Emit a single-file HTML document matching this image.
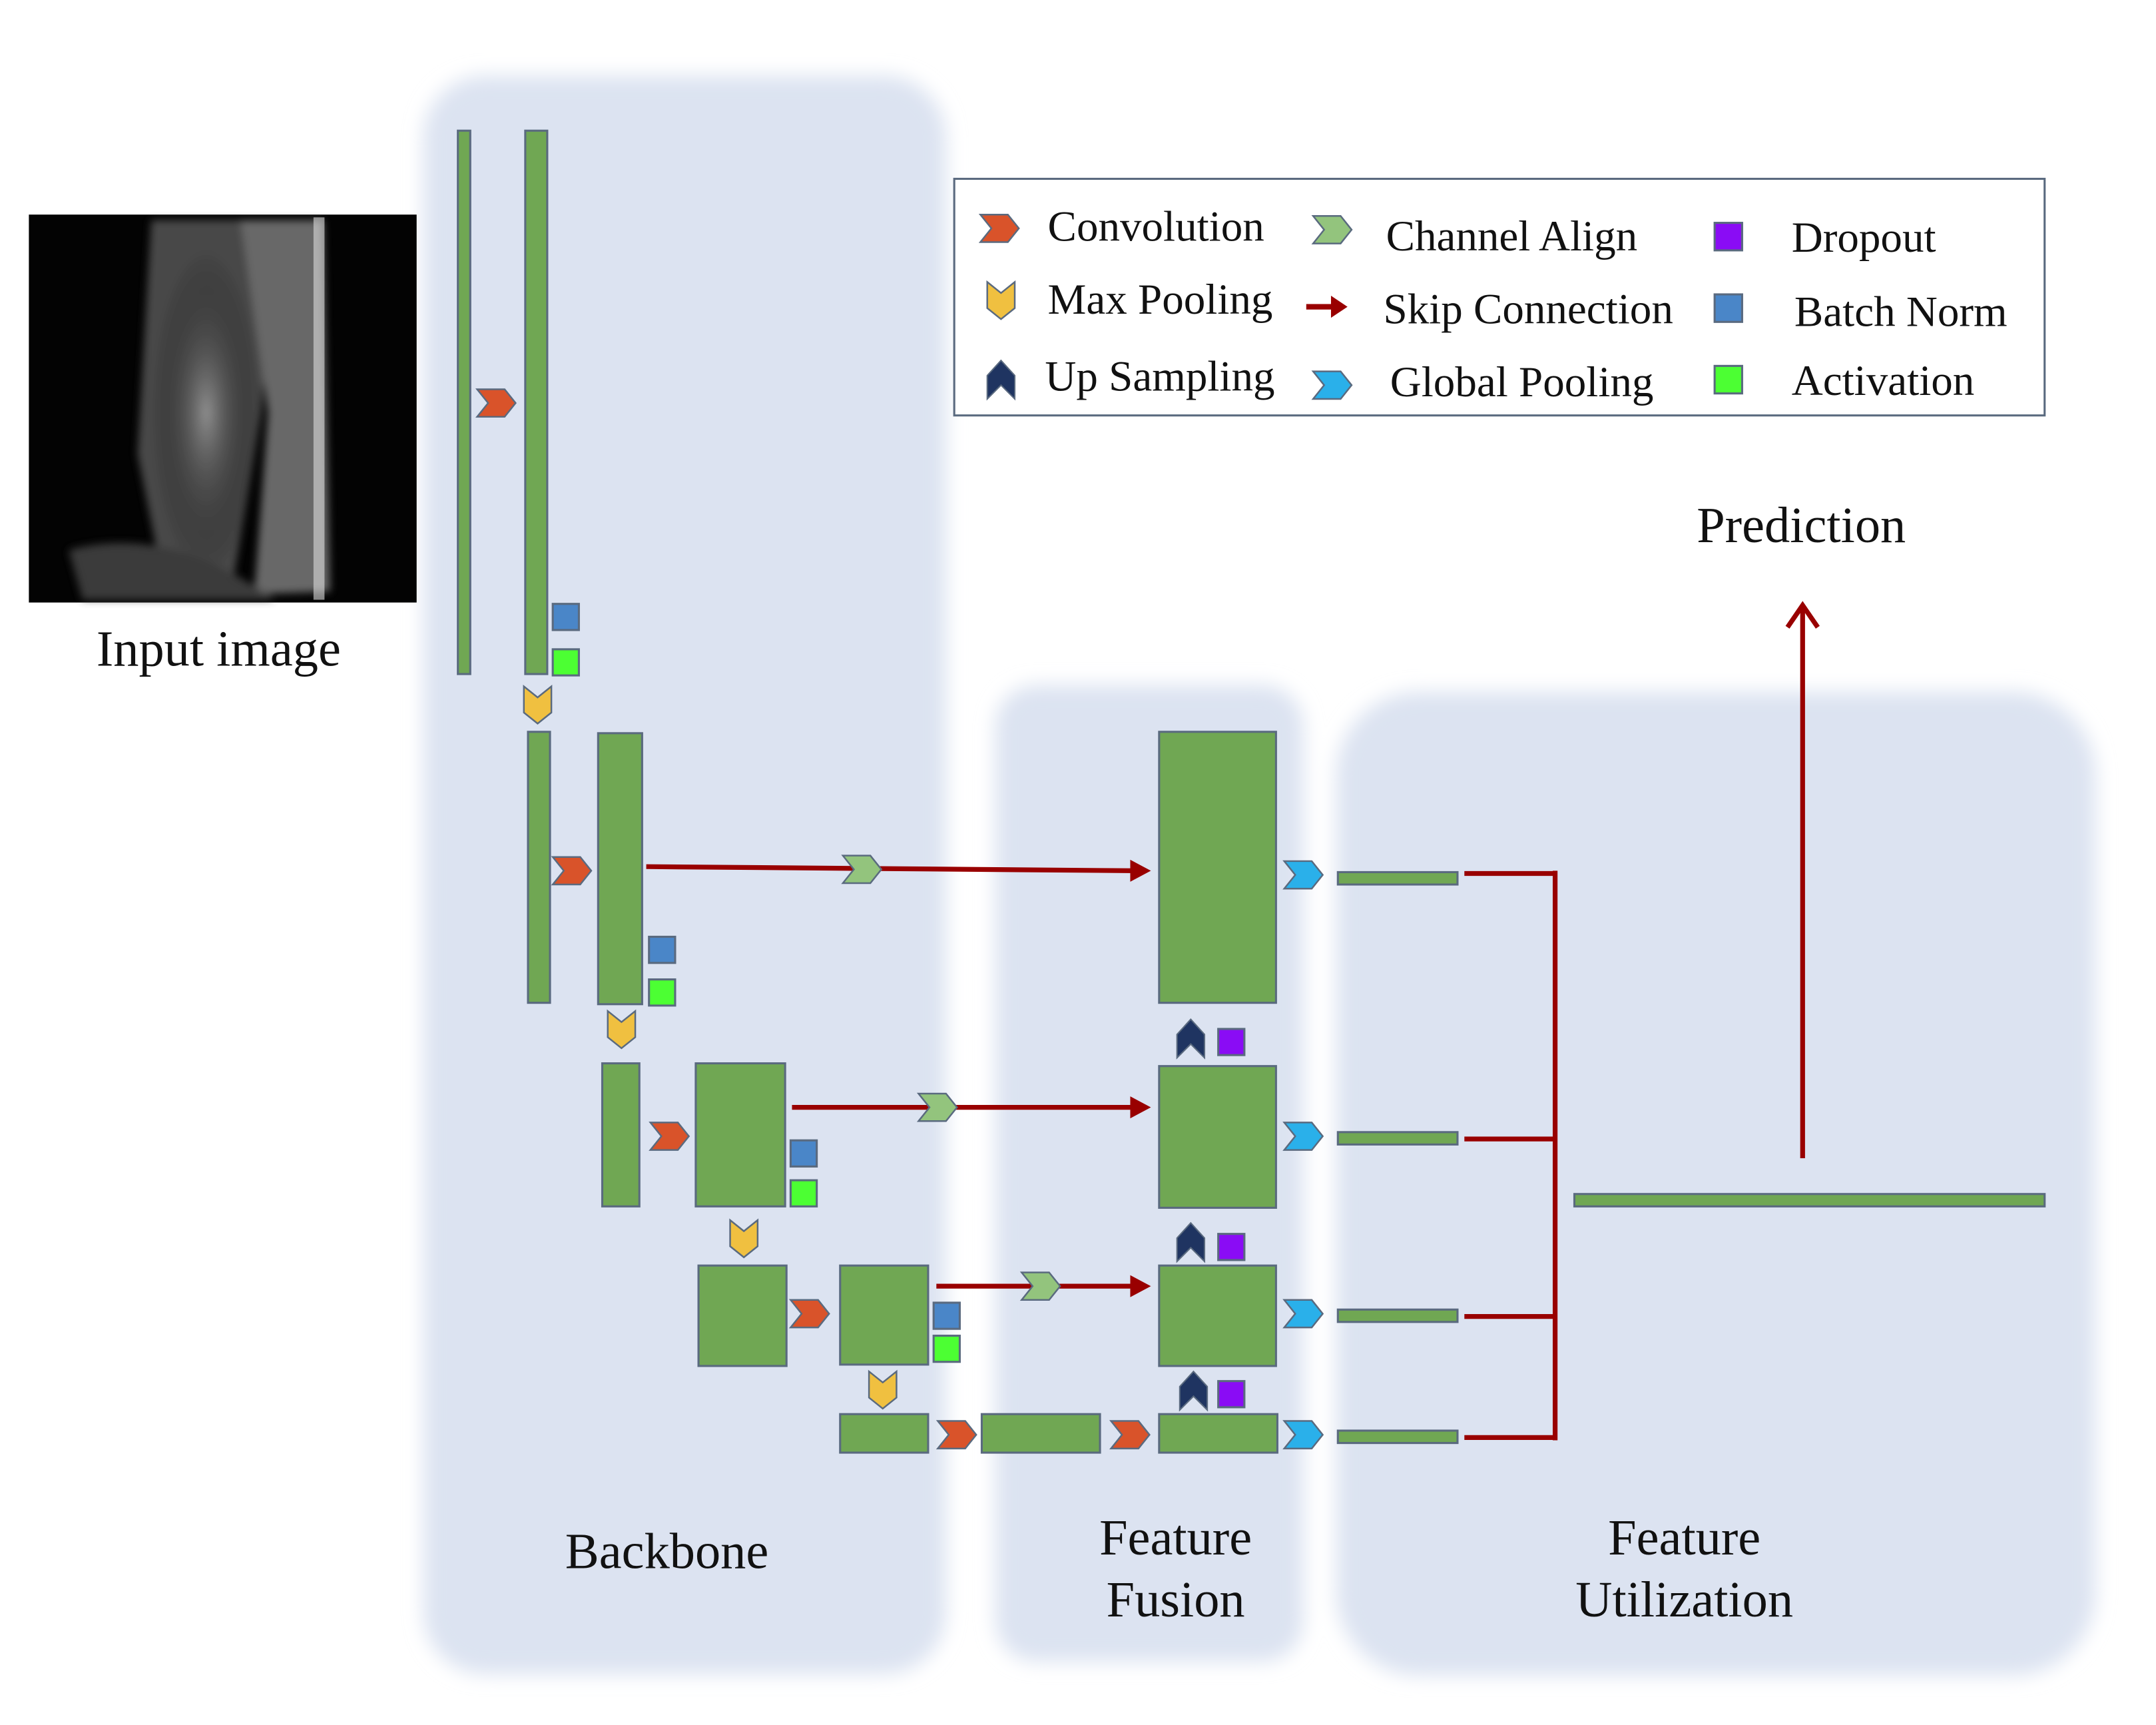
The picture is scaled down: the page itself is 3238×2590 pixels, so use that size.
<!DOCTYPE html>
<html><head><meta charset="utf-8"><style>
html,body{margin:0;padding:0;background:#fff}
svg{display:block}
text{font-family:"Liberation Serif",serif;fill:#111}
</style></head><body>
<svg width="3238" height="2590" viewBox="0 0 1568 1254" preserveAspectRatio="none" xmlns="http://www.w3.org/2000/svg">
<defs>
<filter id="bl" x="-20%" y="-20%" width="140%" height="140%"><feGaussianBlur stdDeviation="7"/></filter>
<filter id="b2"><feGaussianBlur stdDeviation="3"/></filter>
<radialGradient id="sp" cx="0.5" cy="0.5" r="0.5"><stop offset="0" stop-color="#aaa"/><stop offset="1" stop-color="#000" stop-opacity="0"/></radialGradient>
<polygon id="cv" points="-14,-10 6,-10 14,0 6,10 -14,10 -6,0" stroke="#5a6a7f" stroke-width="1.2"/>
<polygon id="pl" points="-10,-13 0,-5 10,-13 10,6 0,14 -10,6" fill="#f0c040" stroke="#5a6a7f" stroke-width="1.2"/>
<polygon id="up" points="0,-14 10,-3 10,14 0,4 -10,14 -10,-3" fill="#1f3461" stroke="#5a6a7f" stroke-width="1"/>
</defs>
<rect width="1568" height="1254" fill="#fff"/>
<g filter="url(#bl)" fill="#dce3f1">
<rect x="308" y="55" width="380" height="1162" rx="45"/>
<rect x="724" y="498" width="224" height="710" rx="30"/>
<rect x="972" y="503" width="552" height="715" rx="60"/>
</g>
<rect x="21" y="156" width="282" height="282" fill="#030303"/>
<g filter="url(#b2)" opacity="0.85">
<path d="M110 160 L200 160 L190 300 L170 420 L120 430 L100 330 Z" fill="#555"/>
<path d="M175 160 L235 160 L240 430 L185 432 L195 300 Z" fill="#7a7a7a"/>
<ellipse cx="150" cy="300" rx="40" ry="120" fill="url(#sp)"/>
<path d="M50 400 Q120 380 200 436 L60 436 Z" fill="#444"/>
</g>
<rect x="228" y="158" width="8" height="278" fill="#ddd" opacity="0.6"/>
<text x="159" y="484" font-size="37" text-anchor="middle">Input image</text>
<rect x="694" y="130" width="793" height="172" fill="#fff" stroke="#5a6a7f" stroke-width="1.5"/>
<use href="#cv" x="727" y="166" fill="#d9532a"/>
<use href="#pl" x="728" y="218"/>
<use href="#up" x="728" y="276"/>
<use href="#cv" x="969" y="167" fill="#93c47d"/>
<use href="#cv" x="969" y="280" fill="#2ab0ea"/>
<line x1="950" y1="223" x2="970" y2="223" stroke="#990000" stroke-width="4"/>
<polygon points="968,215 980,223 968,231" fill="#990000"/>
<rect x="1247" y="162" width="20" height="20" fill="#8a0cf5" stroke="#5a6a7f" stroke-width="1.5"/>
<rect x="1247" y="214" width="20" height="20" fill="#4a86c8" stroke="#5a6a7f" stroke-width="1.5"/>
<rect x="1247" y="266" width="20" height="20" fill="#4cff33" stroke="#5a6a7f" stroke-width="1.5"/>
<g font-size="31.5">
<text x="762" y="175">Convolution</text>
<text x="762" y="228">Max Pooling</text>
<text x="760" y="284">Up Sampling</text>
<text x="1008" y="182">Channel Align</text>
<text x="1006" y="235">Skip Connection</text>
<text x="1011" y="288">Global Pooling</text>
<text x="1303" y="183">Dropout</text>
<text x="1305" y="237">Batch Norm</text>
<text x="1303" y="287">Activation</text>
</g>
<g fill="#70a753" stroke="#5a6a7f" stroke-width="1.5">
<rect x="333" y="95" width="9" height="395"/>
<rect x="382" y="95" width="16" height="395"/>
<rect x="384" y="532" width="16" height="197"/>
<rect x="435" y="533" width="32" height="197"/>
<rect x="438" y="773" width="27" height="104"/>
<rect x="506" y="773" width="65" height="104"/>
<rect x="508" y="920" width="64" height="73"/>
<rect x="611" y="920" width="64" height="72"/>
<rect x="611" y="1028" width="64" height="28"/>
<rect x="714" y="1028" width="86" height="28"/>
<rect x="843" y="1028" width="86" height="28"/>
<rect x="843" y="532" width="85" height="197"/>
<rect x="843" y="775" width="85" height="103"/>
<rect x="843" y="920" width="85" height="73"/>
<rect x="973" y="634" width="87" height="9"/>
<rect x="973" y="823" width="87" height="9"/>
<rect x="973" y="952" width="87" height="9"/>
<rect x="973" y="1040" width="87" height="9"/>
<rect x="1145" y="868" width="342" height="9"/>
</g>
<g stroke="#5a6a7f" stroke-width="1.5">
<rect x="402" y="439" width="19" height="19" fill="#4a86c8"/>
<rect x="402" y="472" width="19" height="19" fill="#4cff33"/>
<rect x="472" y="681" width="19" height="19" fill="#4a86c8"/>
<rect x="472" y="712" width="19" height="19" fill="#4cff33"/>
<rect x="575" y="829" width="19" height="19" fill="#4a86c8"/>
<rect x="575" y="858" width="19" height="19" fill="#4cff33"/>
<rect x="679" y="947" width="19" height="19" fill="#4a86c8"/>
<rect x="679" y="971" width="19" height="19" fill="#4cff33"/>
<rect x="886" y="748" width="19" height="19" fill="#8a0cf5"/>
<rect x="886" y="897" width="19" height="19" fill="#8a0cf5"/>
<rect x="886" y="1004" width="19" height="19" fill="#8a0cf5"/>
</g>
<use href="#pl" x="391" y="512"/>
<use href="#pl" x="452" y="748"/>
<use href="#pl" x="541" y="900"/>
<use href="#pl" x="642" y="1010"/>
<g fill="#d9532a">
<use href="#cv" x="361" y="293"/>
<use href="#cv" x="416" y="633"/>
<use href="#cv" x="487" y="826"/>
<use href="#cv" x="589" y="955"/>
<use href="#cv" x="696" y="1043"/>
<use href="#cv" x="822" y="1043"/>
</g>
<use href="#up" x="866" y="755"/>
<use href="#up" x="866" y="903"/>
<use href="#up" x="868" y="1011"/>
<g stroke="#990000" stroke-width="3.5" fill="none">
<line x1="470" y1="630" x2="826" y2="633"/>
<line x1="576" y1="805" x2="826" y2="805"/>
<line x1="681" y1="935" x2="826" y2="935"/>
</g>
<g fill="#990000">
<polygon points="822,625 837,633 822,641"/>
<polygon points="822,797 837,805 822,813"/>
<polygon points="822,927 837,935 822,943"/>
</g>
<g fill="#93c47d">
<use href="#cv" x="627" y="632"/>
<use href="#cv" x="682" y="805"/>
<use href="#cv" x="757" y="935"/>
</g>
<g fill="#2ab0ea">
<use href="#cv" x="948" y="636"/>
<use href="#cv" x="948" y="826"/>
<use href="#cv" x="948" y="955"/>
<use href="#cv" x="948" y="1043"/>
</g>
<g stroke="#990000" stroke-width="3.5" fill="none">
<line x1="1065" y1="635" x2="1131" y2="635"/>
<line x1="1065" y1="828" x2="1131" y2="828"/>
<line x1="1065" y1="957" x2="1131" y2="957"/>
<line x1="1065" y1="1045" x2="1131" y2="1045"/>
<line x1="1131" y1="633" x2="1131" y2="1047"/>
<line x1="1311" y1="842" x2="1311" y2="440"/>
<polyline points="1300,456 1311,440 1322,456"/>
</g>
<g font-size="37" text-anchor="middle">
<text x="1310" y="394">Prediction</text>
<text x="485" y="1140">Backbone</text>
<text x="855" y="1130">Feature</text>
<text x="855" y="1175">Fusion</text>
<text x="1225" y="1130">Feature</text>
<text x="1225" y="1175">Utilization</text>
</g>
</svg>
</body></html>
